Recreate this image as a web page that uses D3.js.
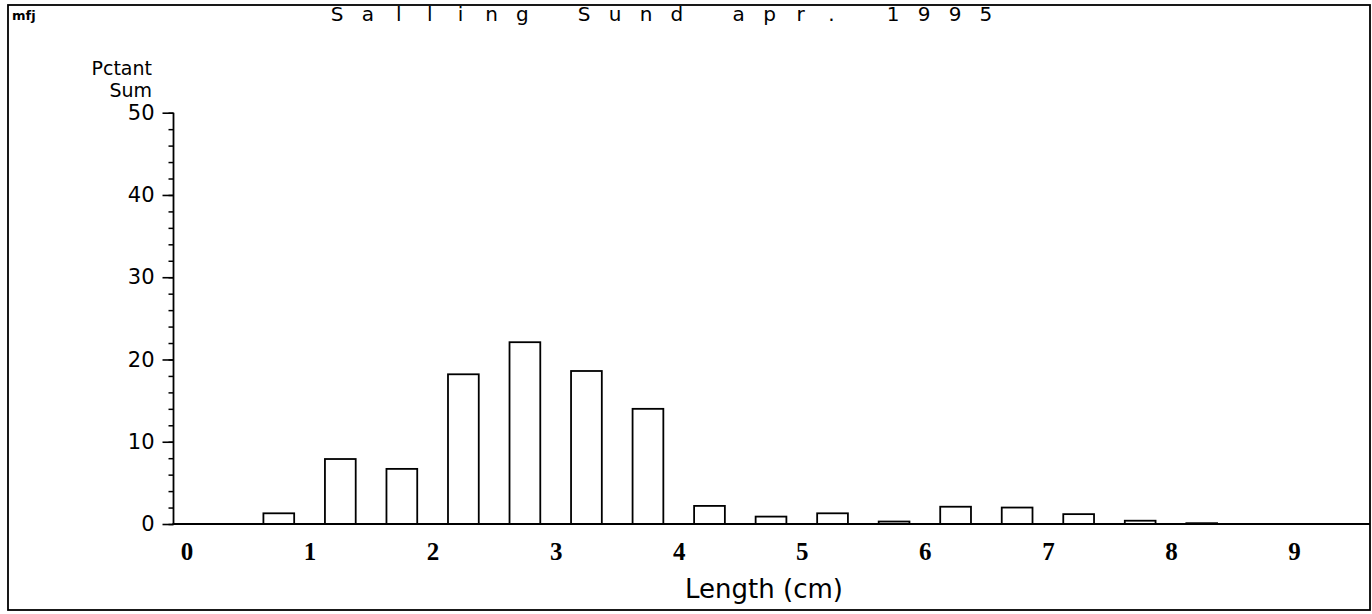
<!DOCTYPE html>
<html>
<head>
<meta charset="utf-8">
<script src="https://cdn.jsdelivr.net/npm/d3@7"></script>
<style>
  html, body { margin: 0; padding: 0; background: #fff; }
  svg { display: block; }
</style>
</head>
<body>
<svg id="chart" width="1372" height="614"></svg>
<script>
// ---- data ----
const titleText = "Salling Sund apr. 1995";
const yLabelLines = ["Pctant", "Sum"];
const xLabel = "Length (cm)";
const cornerTag = "mfj";
// length-class midpoints (cm), 0.5 cm classes
const lengthClasses = [0.75, 1.25, 1.75, 2.25, 2.75, 3.25, 3.75, 4.25, 4.75, 5.25, 5.75, 6.25, 6.75, 7.25, 7.75, 8.25];
// percentage of total
const pctValues = [1.3, 7.9, 6.7, 18.2, 22.1, 18.6, 14.0, 2.2, 0.9, 1.3, 0.3, 2.1, 2.0, 1.2, 0.4, 0.1];
const xTicks = [0, 1, 2, 3, 4, 5, 6, 7, 8, 9];
const yTicks = [0, 10, 20, 30, 40, 50];
const yMinorTicks = d3.range(0, 51, 2);
const classWidth = 0.25;

// ---- layout ----
const svg = d3.select("#chart");
const frame = { left: 8, top: 5, right: 1370, bottom: 610 };
const axisX = 173.5;
const x = d3.scaleLinear().domain([0, 9]).range([186.5, 1294]);
const y = d3.scaleLinear().domain([0, 50]).range([524, 112.7]);
const sans = "'DejaVu Sans', 'Noto Sans', sans-serif";

// frame
svg.append("rect")
  .attr("x", frame.left).attr("y", frame.top)
  .attr("width", frame.right - frame.left).attr("height", frame.bottom - frame.top)
  .attr("fill", "none").attr("stroke", "#000").attr("stroke-width", 1.8);

// corner tag
svg.append("text")
  .attr("x", frame.left + 4).attr("y", 20)
  .attr("font-family", sans).attr("font-weight", "bold").attr("font-size", 13)
  .text(cornerTag);

// title: evenly spaced characters
const titleChars = titleText.split("");
const titleStep = 30.9, titleStart = 337;
svg.append("text")
  .attr("y", 21)
  .attr("font-family", sans).attr("font-size", 20)
  .attr("text-anchor", "middle")
  .selectAll("tspan").data(titleChars).join("tspan")
  .attr("x", (d, i) => titleStart + i * titleStep)
  .attr("y", 21)
  .text(d => d === " " ? "\u00a0" : d);

// y-axis label
svg.append("text")
  .attr("font-family", sans).attr("font-size", 19)
  .attr("text-anchor", "end")
  .selectAll("tspan").data(yLabelLines).join("tspan")
  .attr("x", 152)
  .attr("y", (d, i) => 75 + i * 22)
  .text(d => d);

// y axis minor ticks
const yAxisMinor = d3.axisLeft(y).tickValues(yMinorTicks).tickSize(5).tickFormat("");
const gMinor = svg.append("g").attr("transform", `translate(${axisX},0)`).call(yAxisMinor);
gMinor.select(".domain").remove();
gMinor.selectAll("line").attr("stroke", "#000").attr("stroke-width", 1.5);

// y axis major ticks + labels
const yAxis = d3.axisLeft(y).tickValues(yTicks).tickSize(11).tickPadding(8).tickFormat(d3.format("d"));
const gy = svg.append("g").attr("transform", `translate(${axisX},0)`).call(yAxis);
gy.select(".domain").remove();
gy.selectAll("line").attr("stroke", "#000").attr("stroke-width", 1.6);
gy.selectAll("text").attr("font-family", sans).attr("font-size", 21).attr("fill", "#000");

// y axis line
svg.append("line")
  .attr("x1", axisX).attr("x2", axisX)
  .attr("y1", y(50)).attr("y2", y(0) + 1)
  .attr("stroke", "#000").attr("stroke-width", 1.8);

// bars
svg.append("g").selectAll("rect").data(lengthClasses.map((c, i) => ({ c, v: pctValues[i] }))).join("rect")
  .attr("x", d => x(d.c - classWidth / 2))
  .attr("width", x(classWidth) - x(0))
  .attr("y", d => y(d.v))
  .attr("height", d => y(0) - y(d.v))
  .attr("fill", "#fff").attr("stroke", "#000").attr("stroke-width", 1.8);

// x baseline
svg.append("line")
  .attr("x1", axisX - 1).attr("x2", frame.right)
  .attr("y1", y(0)).attr("y2", y(0))
  .attr("stroke", "#000").attr("stroke-width", 2);

// x tick labels (no tick marks)
const xAxis = d3.axisBottom(x).tickValues(xTicks).tickSize(0).tickPadding(0).tickFormat(d3.format("d"));
const gx = svg.append("g").attr("transform", `translate(0,${y(0)})`).call(xAxis);
gx.select(".domain").remove();
gx.selectAll("text")
  .attr("font-family", "'Liberation Serif', 'Times New Roman', serif")
  .attr("font-weight", "bold").attr("font-size", 25).attr("fill", "#000")
  .attr("dy", null).attr("y", 36);

// x-axis title
svg.append("text")
  .attr("x", 764).attr("y", 598)
  .attr("text-anchor", "middle")
  .attr("font-family", sans).attr("font-size", 26)
  .text(xLabel);
</script>
</body>
</html>
